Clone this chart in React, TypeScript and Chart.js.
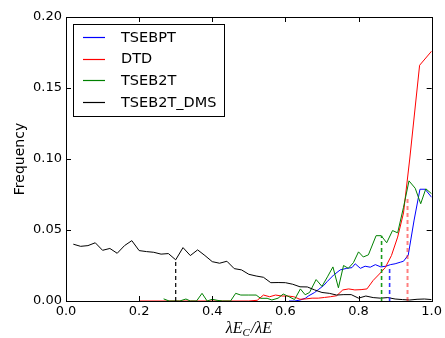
import React, { useEffect, useRef } from "react";
import { Chart, registerables } from "chart.js";

Chart.register(...registerables);

const seriesNames = ["TSEBPT", "DTD", "TSEB2T", "TSEB2T_DMS"];
const seriesColors = ["#0000ff", "#ff0000", "#008000", "#000000"];

const tsebptX = [0.61, 0.625, 0.641, 0.655, 0.664, 0.68, 0.691, 0.705, 0.714, 0.732, 0.75, 0.768, 0.782, 0.791, 0.805, 0.818, 0.832, 0.846, 0.861, 0.875, 0.887, 0.9, 0.914, 0.923, 0.936, 0.952, 0.968, 0.982, 1.0];
const tsebptY = [0, 0, 0.0007, 0.002, 0.0037, 0.006, 0.0082, 0.011, 0.0136, 0.0183, 0.0219, 0.023, 0.0235, 0.0262, 0.023, 0.0245, 0.0238, 0.0256, 0.024, 0.0245, 0.0256, 0.0262, 0.0273, 0.028, 0.0324, 0.057, 0.0787, 0.0787, 0.073];

const dtdX = [0.2, 0.5, 0.523, 0.54, 0.557, 0.573, 0.59, 0.607, 0.623, 0.64, 0.657, 0.673, 0.69, 0.707, 0.723, 0.74, 0.757, 0.773, 0.79, 0.807, 0.823, 0.84, 0.857, 0.873, 0.89, 0.907, 0.923, 0.94, 0.967, 1.0];
const dtdY = [0, 0, 0.0005, 0.0042, 0.003, 0.0042, 0.0035, 0.0035, 0.003, 0.0012, 0.0015, 0.002, 0.002, 0.0025, 0.003, 0.0037, 0.0078, 0.0085, 0.0078, 0.008, 0.0085, 0.0145, 0.019, 0.0235, 0.032, 0.045, 0.062, 0.1, 0.166, 0.176];

const tseb2tX = [0.267, 0.282, 0.311, 0.328, 0.34, 0.357, 0.372, 0.386, 0.4, 0.413, 0.428, 0.45, 0.464, 0.478, 0.5, 0.52, 0.532, 0.55, 0.563, 0.58, 0.594, 0.61, 0.625, 0.641, 0.654, 0.666, 0.684, 0.7, 0.715, 0.73, 0.745, 0.759, 0.772, 0.786, 0.8, 0.813, 0.827, 0.848, 0.862, 0.877, 0.893, 0.907, 0.923, 0.938, 0.955, 0.97, 0.984, 1.0];
const tseb2tY = [0.0015, 0, 0, 0.0014, 0, 0, 0.0054, 0, 0.0012, 0.0005, 0, 0, 0.0054, 0.0042, 0.0042, 0.0042, 0.0019, 0.0019, 0.0007, 0.002, 0.0049, 0.003, 0.001, 0.0085, 0.0044, 0.006, 0.0151, 0.0103, 0.017, 0.024, 0.0093, 0.025, 0.023, 0.027, 0.0346, 0.031, 0.0325, 0.046, 0.046, 0.041, 0.0496, 0.048, 0.066, 0.0846, 0.0794, 0.0685, 0.079, 0.0755];

const dmsX = [0.02, 0.04, 0.06, 0.08, 0.1, 0.12, 0.14, 0.16, 0.18, 0.2, 0.22, 0.24, 0.26, 0.28, 0.3, 0.32, 0.34, 0.36, 0.38, 0.4, 0.42, 0.44, 0.46, 0.48, 0.5, 0.52, 0.54, 0.56, 0.58, 0.6, 0.62, 0.64, 0.66, 0.68, 0.7, 0.72, 0.74, 0.76, 0.78, 0.8, 0.82, 0.84, 0.86, 0.88, 0.9, 0.92, 0.94, 0.96, 0.98, 1.0];
const dmsY = [0.04, 0.0385, 0.039, 0.041, 0.0357, 0.037, 0.0336, 0.039, 0.0425, 0.0355, 0.0348, 0.0343, 0.033, 0.0334, 0.029, 0.0376, 0.032, 0.036, 0.032, 0.0277, 0.0266, 0.028, 0.0228, 0.0219, 0.0188, 0.0176, 0.0167, 0.0129, 0.013, 0.0129, 0.0118, 0.01, 0.0099, 0.0078, 0.006, 0.0054, 0.0042, 0.0045, 0.0045, 0.002, 0.0035, 0.0024, 0.002, 0.0024, 0.0014, 0.001, 0.0007, 0.0012, 0.0014, 0.001];

// median markers (TSEBPT, DTD, TSEB2T, TSEB2T_DMS)
const medianX = [0.885, 0.934, 0.863, 0.3];
const medianY = [0.0245, 0.073, 0.046, 0.029];
const medianColors = ["#3333ff", "rgba(255,0,0,0.5)", "#1a9a1a", "#000000"];
const medianWidths = [1.6, 2, 1.6, 1.2];

const xTicks = [0, 0.2, 0.4, 0.6, 0.8, 1.0];
const yTicks = [0, 0.05, 0.1, 0.15, 0.2];

const yTitle = "Frequency";

const toPts = (xs: number[], ys: number[]) => xs.map((x, i) => ({ x, y: ys[i] }));

const seriesXs = [tsebptX, dtdX, tseb2tX, dmsX];
const seriesYs = [tsebptY, dtdY, tseb2tY, dmsY];

const decorPlugin = {
  id: "decor",
  afterDatasetsDraw(chart: any) {
    const { ctx, chartArea } = chart;
    const { left, right, top, bottom } = chartArea;
    const xs = chart.scales.x;
    const ys = chart.scales.y;
    ctx.save();
    ctx.setLineDash([]);
    ctx.strokeStyle = "#000";
    ctx.lineWidth = 1;
    ctx.strokeRect(Math.round(left) + 0.5, Math.round(top) + 0.5, Math.round(right - left), Math.round(bottom - top));
    const tl = 5;
    ctx.beginPath();
    xTicks.forEach((v) => {
      const px = Math.round(xs.getPixelForValue(v)) + 0.5;
      ctx.moveTo(px, bottom);
      ctx.lineTo(px, bottom - tl);
      ctx.moveTo(px, top);
      ctx.lineTo(px, top + tl);
    });
    yTicks.forEach((v) => {
      const py = Math.round(ys.getPixelForValue(v)) + 0.5;
      ctx.moveTo(left, py);
      ctx.lineTo(left + tl, py);
      ctx.moveTo(right, py);
      ctx.lineTo(right - tl, py);
    });
    ctx.stroke();

    // legend
    const lx = 73.5, ly = 24.5, lw = 151, lh = 92;
    ctx.fillStyle = "#fff";
    ctx.fillRect(lx, ly, lw, lh);
    ctx.strokeStyle = "#000";
    ctx.strokeRect(lx, ly, lw, lh);
    ctx.font = "14.5px 'DejaVu Sans'";
    ctx.textBaseline = "middle";
    ctx.textAlign = "left";
    seriesNames.forEach((name, i) => {
      const cy = 37 + i * 21.7;
      ctx.strokeStyle = seriesColors[i];
      ctx.lineWidth = 1.2;
      ctx.beginPath();
      ctx.moveTo(83, Math.round(cy) + 0.5);
      ctx.lineTo(105, Math.round(cy) + 0.5);
      ctx.stroke();
      ctx.fillStyle = "#000";
      ctx.fillText(name, 121, cy + 1);
    });

    // x label: λE_C/λE
    const cx = (left + right) / 2;
    const base = 333;
    const big = "italic 16px 'Liberation Serif'";
    const small = "italic 11px 'Liberation Serif'";
    ctx.textBaseline = "alphabetic";
    ctx.font = big;
    const w1 = ctx.measureText("λE").width;
    const w3 = ctx.measureText("/λE").width;
    ctx.font = small;
    const w2 = ctx.measureText("C").width;
    let x0 = cx - (w1 + w2 + w3 + 1) / 2;
    ctx.fillStyle = "#000";
    ctx.font = big;
    ctx.fillText("λE", x0, base);
    x0 += w1;
    ctx.font = small;
    ctx.fillText("C", x0, base + 3);
    x0 += w2 + 1;
    ctx.font = big;
    ctx.fillText("/λE", x0, base);
    ctx.restore();
  },
};

export default function App() {
  const ref = useRef<HTMLCanvasElement | null>(null);
  useEffect(() => {
    document.body.style.margin = "0";
    if (!ref.current) return;
    Chart.defaults.font.family = "'DejaVu Sans'";
    const datasets: any[] = [];
    seriesNames.forEach((name, i) => {
      datasets.push({
        label: name,
        data: toPts(seriesXs[i], seriesYs[i]),
        borderColor: seriesColors[i],
        backgroundColor: seriesColors[i],
        borderWidth: 1,
        pointRadius: 0,
        tension: 0,
        fill: false,
        order: 8 - i,
      });
    });
    medianX.forEach((mx, i) => {
      datasets.push({
        label: seriesNames[i] + " median",
        data: [
          { x: mx, y: 0 },
          { x: mx, y: medianY[i] },
        ],
        borderColor: medianColors[i],
        backgroundColor: medianColors[i],
        borderWidth: medianWidths[i],
        borderDash: [4, 3],
        pointRadius: 0,
        fill: false,
        order: 1,
      });
    });
    const chart = new Chart(ref.current, {
      type: "line",
      data: { datasets },
      plugins: [decorPlugin],
      options: {
        animation: false,
        responsive: false,
        maintainAspectRatio: false,
        devicePixelRatio: 1,
        layout: { padding: { left: 0, right: 12, top: 17, bottom: 0 } },
        plugins: { legend: { display: false }, tooltip: { enabled: false } },
        scales: {
          x: {
            type: "linear",
            min: 0,
            max: 1,
            afterBuildTicks: (s: any) => {
              s.ticks = xTicks.map((v) => ({ value: v }));
            },
            afterFit: (s: any) => {
              s.height = 37;
            },
            grid: { display: false, drawTicks: false },
            border: { display: false },
            ticks: {
              color: "#000",
              font: { size: 13, family: "'DejaVu Sans'" },
              padding: 3,
              maxRotation: 0,
              autoSkip: false,
              callback: (v: any) => Number(v).toFixed(1),
            },
          },
          y: {
            type: "linear",
            min: 0,
            max: 0.2,
            afterBuildTicks: (s: any) => {
              s.ticks = yTicks.map((v) => ({ value: v }));
            },
            afterFit: (s: any) => {
              s.width = 66;
            },
            grid: { display: false, drawTicks: false },
            border: { display: false },
            title: {
              display: true,
              text: yTitle,
              color: "#000",
              font: { size: 14, family: "'DejaVu Sans'" },
              padding: { top: 12, bottom: 0 },
            },
            ticks: {
              color: "#000",
              font: { size: 13, family: "'DejaVu Sans'" },
              padding: 4,
              autoSkip: false,
              callback: (v: any) => Number(v).toFixed(2),
            },
          },
        },
      },
    });
    return () => chart.destroy();
  }, []);
  return (
    <div style={{ width: 445, height: 338, background: "#fff" }}>
      <canvas ref={ref} width={445} height={338} style={{ display: "block" }} />
    </div>
  );
}
